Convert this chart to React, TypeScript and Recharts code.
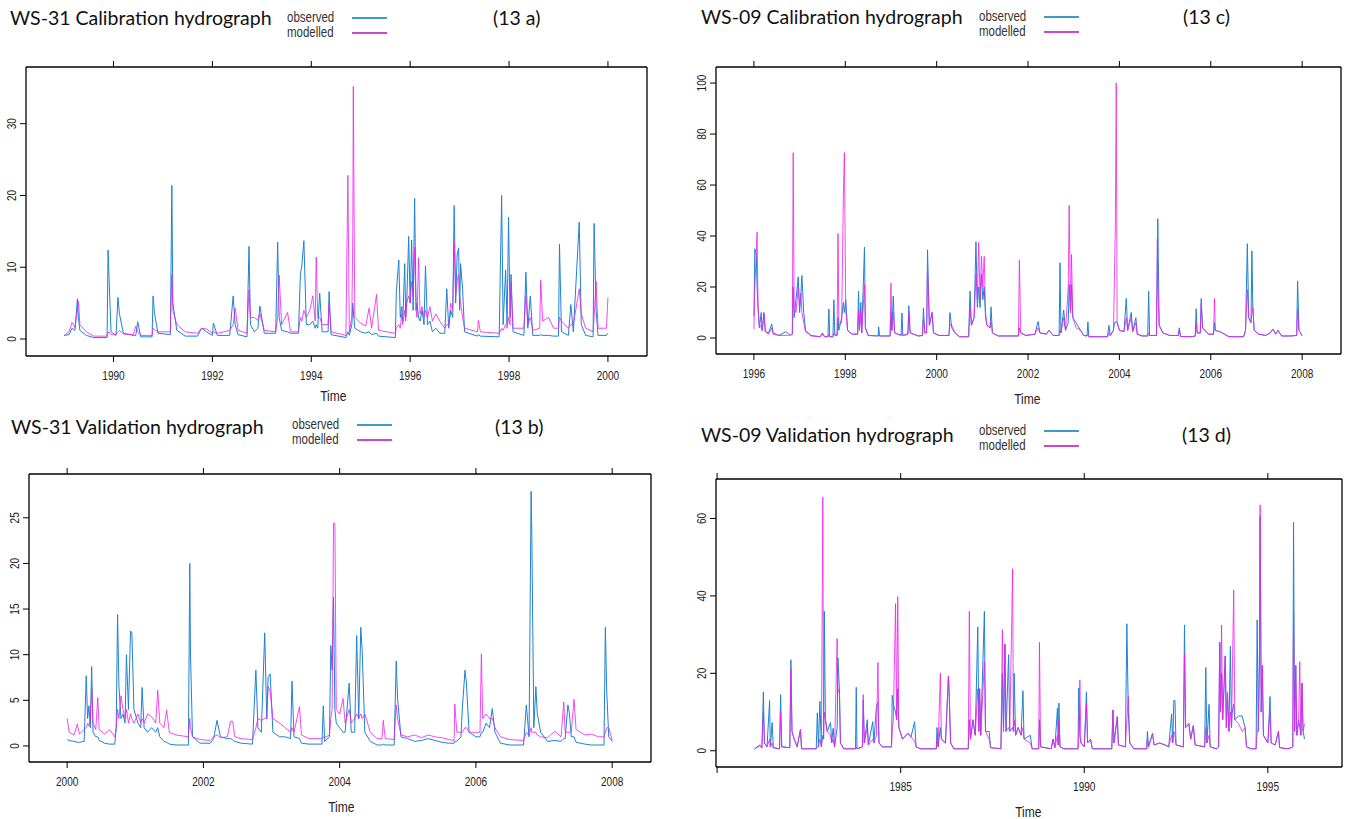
import { LineChart, Line, XAxis, YAxis } from 'recharts';

// [year, observed, modelled]
const ws31Calibration: number[][] = [
  [1989.0, 0.5, 0.5], [1989.1, 0.6, 1.0], [1989.16, 1.5, 2.3], [1989.22, 1.2, 1.6], [1989.27, 5.6, 4.0],
  [1989.29, 3.0, 5.3], [1989.32, 1.2, 2.0], [1989.45, 0.5, 1.0], [1989.6, 0.2, 0.4], [1989.87, 0.2, 0.4],
  [1989.89, 12.4, 0.8], [1989.91, 8.4, 1.0], [1989.95, 1.0, 0.6], [1990.05, 0.5, 0.6], [1990.09, 5.8, 1.0],
  [1990.12, 3.5, 1.2], [1990.2, 0.8, 0.7], [1990.4, 0.5, 0.6], [1990.45, 0.5, 1.8], [1990.49, 2.4, 1.0],
  [1990.55, 0.3, 0.5], [1990.78, 0.3, 0.5], [1990.8, 6.0, 1.5], [1990.83, 3.5, 1.3], [1990.9, 0.8, 1.0],
  [1991.15, 0.6, 1.0], [1991.18, 21.4, 9.0], [1991.2, 5.0, 4.0], [1991.28, 1.2, 2.0], [1991.45, 0.4, 1.0],
  [1991.7, 0.4, 0.8], [1991.78, 1.5, 1.5], [1991.88, 1.0, 1.4], [1992.0, 0.5, 0.8], [1992.02, 2.2, 1.0],
  [1992.1, 0.5, 0.8], [1992.35, 0.5, 1.2], [1992.42, 6.0, 2.0], [1992.46, 2.0, 4.3], [1992.52, 0.6, 1.2],
  [1992.7, 0.3, 0.8], [1992.74, 12.9, 6.8], [1992.77, 2.0, 3.0], [1992.85, 1.0, 3.0], [1992.92, 1.5, 2.6],
  [1992.96, 4.6, 3.5], [1993.05, 0.8, 1.2], [1993.28, 0.8, 1.0], [1993.32, 13.5, 3.0], [1993.35, 3.0, 8.9],
  [1993.4, 1.2, 2.0], [1993.52, 1.0, 3.7], [1993.58, 0.8, 1.0], [1993.74, 0.8, 1.0], [1993.78, 9.0, 3.0],
  [1993.81, 10.3, 2.5], [1993.85, 13.7, 4.0], [1993.9, 2.0, 3.0], [1993.97, 2.0, 4.0], [1994.03, 2.5, 6.0],
  [1994.08, 1.5, 2.5], [1994.1, 2.0, 11.4], [1994.13, 1.5, 3.0], [1994.17, 6.4, 3.0], [1994.22, 1.0, 2.0],
  [1994.34, 1.0, 2.0], [1994.36, 6.6, 5.0], [1994.4, 0.6, 1.0], [1994.7, 0.2, 0.5], [1994.74, 1.0, 22.8],
  [1994.77, 0.5, 1.0], [1994.82, 2.0, 3.0], [1994.84, 5.0, 14.7], [1994.85, 4.0, 35.2], [1994.88, 1.5, 3.0],
  [1995.0, 1.0, 2.2], [1995.1, 0.8, 1.8], [1995.17, 1.0, 4.3], [1995.22, 0.6, 1.5], [1995.32, 0.8, 6.2],
  [1995.36, 0.4, 1.2], [1995.7, 0.2, 0.8], [1995.72, 6.6, 1.5], [1995.77, 11.0, 2.0], [1995.8, 3.0, 1.5],
  [1995.83, 4.5, 3.5], [1995.85, 2.5, 2.0], [1995.89, 10.5, 4.0], [1995.91, 3.0, 2.5], [1995.93, 5.0, 5.0],
  [1995.97, 14.3, 6.0], [1996.0, 5.0, 5.0], [1996.03, 13.8, 8.0], [1996.06, 4.0, 6.0], [1996.09, 19.6, 12.8],
  [1996.12, 4.0, 4.0], [1996.14, 5.0, 3.0], [1996.17, 3.0, 11.3], [1996.2, 2.5, 3.5], [1996.24, 4.0, 4.5],
  [1996.28, 2.0, 3.0], [1996.31, 10.2, 4.0], [1996.35, 2.0, 3.0], [1996.4, 2.5, 4.5], [1996.45, 1.0, 2.5],
  [1996.52, 1.5, 3.5], [1996.6, 0.8, 2.5], [1996.7, 0.8, 1.5], [1996.74, 7.0, 2.0], [1996.78, 1.5, 2.0],
  [1996.82, 4.0, 5.0], [1996.86, 3.0, 4.0], [1996.89, 18.6, 13.5], [1996.92, 5.0, 6.0], [1996.95, 11.7, 8.0],
  [1996.98, 12.7, 9.0], [1997.0, 4.0, 6.0], [1997.02, 10.5, 5.0], [1997.06, 7.0, 3.0], [1997.1, 1.0, 1.5],
  [1997.36, 0.4, 1.0], [1997.38, 0.6, 2.6], [1997.42, 0.4, 1.0], [1997.8, 0.3, 0.8], [1997.85, 20.0, 1.5],
  [1997.88, 2.0, 1.2], [1997.93, 9.6, 2.0], [1997.96, 2.0, 1.5], [1997.99, 17.0, 3.0], [1998.02, 3.0, 2.0],
  [1998.04, 9.0, 7.8], [1998.08, 1.0, 1.5], [1998.3, 0.5, 1.5], [1998.34, 9.3, 6.0], [1998.38, 1.5, 2.0],
  [1998.43, 6.0, 3.0], [1998.48, 0.5, 1.2], [1998.62, 0.5, 1.5], [1998.64, 0.6, 8.2], [1998.68, 0.5, 2.5],
  [1998.8, 0.5, 3.0], [1998.9, 0.4, 1.5], [1999.0, 0.4, 1.5], [1999.02, 13.2, 3.0], [1999.06, 1.0, 2.5],
  [1999.2, 0.5, 1.5], [1999.25, 4.8, 2.0], [1999.3, 1.0, 2.0], [1999.42, 16.3, 7.0], [1999.46, 2.0, 3.5],
  [1999.55, 0.5, 1.5], [1999.7, 0.3, 1.0], [1999.72, 16.1, 3.0], [1999.76, 4.0, 8.0], [1999.8, 0.5, 1.5],
  [1999.97, 0.5, 1.5], [2000.0, 0.8, 5.8],
];

const ws31Validation: number[][] = [
  [2000.0, 0.7, 3.0], [2000.03, 0.6, 1.5], [2000.1, 0.5, 1.2], [2000.15, 0.4, 2.4], [2000.18, 0.4, 1.3],
  [2000.25, 0.5, 1.8], [2000.28, 7.7, 2.0], [2000.3, 3.0, 2.5], [2000.32, 4.4, 2.2], [2000.34, 2.0, 3.0],
  [2000.36, 8.7, 6.4], [2000.38, 1.5, 2.5], [2000.42, 1.0, 1.8], [2000.45, 1.0, 5.3], [2000.47, 0.6, 1.8],
  [2000.55, 0.3, 1.3], [2000.62, 0.2, 1.8], [2000.7, 0.2, 1.0], [2000.72, 2.0, 2.0], [2000.74, 14.4, 4.0],
  [2000.76, 6.5, 3.0], [2000.79, 3.0, 5.5], [2000.82, 3.5, 4.0], [2000.85, 2.5, 3.0], [2000.87, 10.0, 4.0],
  [2000.9, 4.0, 2.5], [2000.93, 12.6, 3.5], [2000.95, 12.4, 3.0], [2000.98, 4.0, 2.5], [2001.04, 2.5, 3.5],
  [2001.08, 2.0, 2.5], [2001.1, 6.4, 3.0], [2001.13, 2.0, 2.5], [2001.18, 1.5, 3.5], [2001.24, 2.0, 3.2],
  [2001.3, 1.5, 2.5], [2001.33, 2.0, 6.1], [2001.36, 1.0, 2.5], [2001.42, 0.5, 2.0], [2001.46, 0.4, 3.9],
  [2001.5, 0.2, 1.5], [2001.6, 0.1, 1.2], [2001.78, 0.1, 1.0], [2001.8, 20.0, 3.0], [2001.81, 10.3, 2.0],
  [2001.84, 1.0, 1.0], [2001.95, 0.3, 0.7], [2002.1, 0.3, 0.6], [2002.15, 0.8, 1.0], [2002.2, 2.8, 1.2],
  [2002.25, 1.0, 0.9], [2002.35, 0.8, 1.0], [2002.4, 0.8, 2.7], [2002.43, 0.7, 2.7], [2002.46, 0.5, 1.0],
  [2002.55, 0.3, 0.8], [2002.72, 0.2, 0.7], [2002.77, 8.3, 2.0], [2002.8, 2.0, 3.0], [2002.85, 1.5, 2.8],
  [2002.9, 12.4, 3.0], [2002.93, 3.0, 3.0], [2002.95, 7.5, 6.5], [2002.98, 7.9, 6.0], [2003.02, 1.5, 3.0],
  [2003.12, 1.0, 2.5], [2003.2, 1.0, 2.0], [2003.28, 0.8, 1.5], [2003.3, 7.1, 2.0], [2003.33, 1.0, 1.5],
  [2003.41, 0.8, 4.3], [2003.44, 0.3, 1.2], [2003.55, 0.2, 0.8], [2003.74, 0.2, 0.8], [2003.76, 4.4, 1.0],
  [2003.78, 0.5, 0.9], [2003.85, 1.0, 1.2], [2003.87, 11.0, 3.0], [2003.89, 8.3, 4.0], [2003.91, 16.3, 24.4],
  [2003.93, 4.0, 24.4], [2003.95, 2.5, 4.0], [2004.0, 2.0, 3.5], [2004.05, 1.5, 5.2], [2004.08, 1.5, 2.5],
  [2004.14, 6.9, 4.0], [2004.17, 1.5, 2.5], [2004.22, 1.5, 3.0], [2004.25, 12.1, 3.5], [2004.28, 3.0, 3.0],
  [2004.31, 13.0, 3.5], [2004.33, 10.5, 3.0], [2004.37, 1.5, 3.5], [2004.45, 0.5, 1.5], [2004.55, 0.1, 0.8],
  [2004.62, 0.1, 0.8], [2004.64, 0.2, 2.8], [2004.67, 0.1, 0.8], [2004.8, 0.1, 0.7], [2004.83, 9.3, 4.5],
  [2004.85, 5.2, 3.0], [2004.9, 1.0, 1.2], [2005.0, 0.8, 1.0], [2005.1, 0.5, 1.2], [2005.2, 0.6, 0.9],
  [2005.3, 0.8, 1.2], [2005.4, 0.6, 1.0], [2005.5, 0.4, 0.9], [2005.6, 0.3, 0.7], [2005.68, 0.3, 0.6],
  [2005.69, 0.5, 4.6], [2005.72, 0.5, 1.5], [2005.78, 1.0, 1.5], [2005.8, 4.0, 1.5], [2005.84, 8.3, 2.0],
  [2005.86, 6.9, 2.0], [2005.9, 1.5, 1.5], [2006.0, 1.0, 1.5], [2006.06, 1.0, 1.5], [2006.08, 1.5, 10.1],
  [2006.1, 1.5, 3.0], [2006.15, 2.5, 3.5], [2006.2, 2.0, 3.0], [2006.24, 4.1, 3.0], [2006.28, 1.5, 2.0],
  [2006.36, 0.3, 1.0], [2006.5, 0.1, 0.7], [2006.7, 0.1, 0.6], [2006.74, 4.5, 1.5], [2006.78, 1.0, 1.2],
  [2006.81, 27.9, 2.0], [2006.82, 23.7, 1.5], [2006.85, 2.0, 1.5], [2006.88, 6.5, 1.5], [2006.9, 3.6, 1.2],
  [2006.95, 1.5, 1.0], [2007.05, 0.5, 0.9], [2007.16, 0.6, 1.6], [2007.25, 0.5, 1.0], [2007.29, 0.8, 4.8],
  [2007.31, 0.8, 1.5], [2007.35, 4.5, 1.5], [2007.37, 3.7, 1.5], [2007.4, 1.0, 1.5], [2007.44, 1.0, 5.1],
  [2007.47, 0.4, 1.8], [2007.6, 0.2, 1.2], [2007.7, 0.1, 1.3], [2007.8, 0.1, 1.0], [2007.88, 0.1, 1.0],
  [2007.9, 13.0, 1.5], [2007.92, 6.0, 2.0], [2007.95, 1.0, 2.0], [2008.0, 0.5, 0.6],
];

const ws09Calibration: number[][] = [
  [1996.0, 8.5, 3.5], [1996.02, 35.0, 20.0], [1996.05, 33.0, 33.0], [1996.07, 20.0, 41.5], [1996.09, 12.0, 12.0],
  [1996.12, 4.0, 4.0], [1996.16, 10.0, 5.0], [1996.18, 3.0, 3.0], [1996.22, 10.0, 9.5], [1996.25, 2.5, 2.5],
  [1996.32, 2.0, 1.5], [1996.39, 5.5, 4.0], [1996.42, 2.0, 1.5], [1996.55, 1.0, 1.0], [1996.7, 2.5, 1.0],
  [1996.8, 1.0, 1.2], [1996.84, 1.5, 1.5], [1996.86, 20.0, 72.7], [1996.88, 8.0, 12.0], [1996.92, 15.0, 10.0],
  [1996.97, 24.0, 20.0], [1997.0, 10.0, 12.0], [1997.03, 18.0, 17.5], [1997.05, 24.5, 10.0], [1997.09, 10.0, 6.0],
  [1997.13, 3.0, 2.5], [1997.25, 1.0, 0.8], [1997.45, 0.5, 0.5], [1997.5, 2.0, 1.5], [1997.55, 0.5, 0.5],
  [1997.62, 0.5, 0.5], [1997.64, 11.4, 1.5], [1997.66, 0.5, 0.5], [1997.73, 0.5, 0.5], [1997.75, 15.0, 2.0],
  [1997.77, 1.5, 1.0], [1997.82, 1.0, 1.0], [1997.84, 8.0, 41.0], [1997.86, 3.0, 5.0], [1997.92, 8.0, 6.0],
  [1997.96, 14.0, 58.0], [1997.98, 10.0, 72.7], [1998.01, 15.0, 11.0], [1998.05, 3.0, 3.0], [1998.15, 1.5, 1.5],
  [1998.27, 1.5, 1.5], [1998.29, 18.4, 11.0], [1998.31, 3.0, 3.0], [1998.34, 14.0, 10.0], [1998.36, 2.0, 2.0],
  [1998.42, 35.6, 21.0], [1998.44, 4.0, 4.0], [1998.5, 1.0, 1.0], [1998.72, 0.8, 0.8], [1998.73, 4.4, 1.0],
  [1998.75, 0.8, 0.8], [1998.98, 0.8, 0.8], [1999.0, 10.0, 21.5], [1999.02, 3.0, 3.0], [1999.05, 16.5, 10.0],
  [1999.08, 2.0, 2.0], [1999.22, 1.0, 1.0], [1999.24, 9.8, 2.0], [1999.26, 1.0, 1.0], [1999.37, 1.5, 1.5],
  [1999.39, 12.7, 10.0], [1999.42, 2.0, 2.0], [1999.6, 0.8, 0.8], [1999.69, 1.0, 1.0], [1999.71, 11.8, 7.5],
  [1999.74, 2.0, 2.0], [1999.78, 2.0, 2.0], [1999.8, 34.6, 27.0], [1999.84, 5.0, 5.0], [1999.9, 10.0, 10.0],
  [1999.93, 2.0, 2.0], [2000.05, 1.0, 1.0], [2000.27, 1.0, 1.0], [2000.29, 10.0, 5.5], [2000.33, 4.0, 5.0],
  [2000.4, 2.0, 2.0], [2000.5, 0.5, 0.5], [2000.7, 0.5, 0.5], [2000.73, 18.4, 12.0], [2000.76, 5.0, 5.0],
  [2000.82, 8.0, 8.0], [2000.86, 37.8, 25.0], [2000.89, 12.0, 15.0], [2000.92, 20.0, 37.5], [2000.95, 12.0, 15.0],
  [2000.98, 25.0, 32.0], [2001.01, 15.0, 20.0], [2001.04, 20.0, 32.0], [2001.07, 8.0, 10.0], [2001.1, 5.0, 5.0],
  [2001.17, 4.0, 4.0], [2001.19, 12.2, 6.5], [2001.22, 2.0, 2.0], [2001.35, 0.8, 0.8], [2001.79, 0.8, 0.8],
  [2001.81, 4.0, 30.5], [2001.84, 2.0, 2.0], [2001.95, 1.0, 1.0], [2002.15, 1.5, 1.5], [2002.22, 6.5, 4.0],
  [2002.26, 2.0, 2.0], [2002.4, 1.5, 1.5], [2002.46, 3.0, 3.0], [2002.55, 1.0, 1.0], [2002.68, 1.0, 1.0],
  [2002.7, 29.5, 3.0], [2002.72, 2.0, 2.0], [2002.78, 11.0, 8.0], [2002.82, 3.0, 3.0], [2002.88, 6.0, 20.0],
  [2002.9, 21.0, 52.0], [2002.93, 10.0, 10.0], [2002.95, 21.0, 32.8], [2002.98, 8.0, 8.0], [2003.05, 6.0, 4.0],
  [2003.15, 3.0, 3.0], [2003.22, 1.0, 1.0], [2003.29, 0.8, 0.8], [2003.31, 6.3, 1.5], [2003.33, 0.5, 0.5],
  [2003.74, 0.5, 0.5], [2003.77, 5.0, 2.0], [2003.8, 1.0, 1.0], [2003.87, 3.0, 3.0], [2003.89, 6.0, 23.0],
  [2003.91, 6.0, 42.5], [2003.93, 6.5, 100.0], [2003.95, 6.0, 6.0], [2004.0, 3.0, 3.0], [2004.1, 2.5, 2.5],
  [2004.15, 15.5, 8.0], [2004.18, 3.0, 3.0], [2004.26, 10.0, 8.0], [2004.29, 2.5, 2.5], [2004.36, 8.0, 6.0],
  [2004.39, 1.5, 1.5], [2004.5, 0.8, 0.8], [2004.62, 0.8, 0.8], [2004.64, 18.3, 2.0], [2004.66, 1.0, 1.0],
  [2004.81, 1.0, 1.0], [2004.83, 30.0, 39.0], [2004.84, 46.8, 20.0], [2004.87, 5.0, 5.0], [2004.95, 2.0, 2.0],
  [2005.1, 1.0, 1.0], [2005.29, 1.0, 1.0], [2005.31, 4.0, 3.0], [2005.34, 0.6, 0.6], [2005.6, 0.5, 0.5],
  [2005.66, 0.8, 0.8], [2005.68, 11.5, 6.0], [2005.7, 2.0, 2.0], [2005.77, 2.0, 2.0], [2005.79, 15.5, 13.5],
  [2005.82, 4.0, 4.0], [2005.95, 1.5, 1.5], [2006.06, 1.5, 1.5], [2006.08, 6.0, 15.5], [2006.1, 3.0, 3.0],
  [2006.2, 2.5, 2.5], [2006.3, 1.5, 1.5], [2006.4, 0.5, 0.5], [2006.72, 0.5, 0.5], [2006.76, 3.0, 3.0],
  [2006.8, 37.0, 19.0], [2006.83, 8.0, 8.0], [2006.88, 6.0, 6.0], [2006.9, 34.2, 10.0], [2006.92, 12.0, 12.0],
  [2006.95, 3.0, 3.0], [2007.05, 1.5, 1.5], [2007.2, 1.0, 1.0], [2007.3, 2.0, 2.0], [2007.36, 3.5, 3.5],
  [2007.42, 1.5, 1.5], [2007.47, 3.0, 3.0], [2007.55, 0.8, 0.8], [2007.75, 0.8, 0.8], [2007.88, 1.0, 1.0],
  [2007.9, 22.4, 11.5], [2007.93, 3.0, 3.0], [2008.0, 1.0, 0.8],
];

const ws09Validation: number[][] = [
  [1981.02, 0.5, 0.5], [1981.16, 1.5, 1.2], [1981.22, 0.8, 0.8], [1981.26, 15.2, 10.0], [1981.29, 2.0, 2.0],
  [1981.36, 1.0, 1.0], [1981.43, 13.0, 3.0], [1981.45, 1.0, 1.0], [1981.5, 7.3, 2.0], [1981.53, 0.8, 0.8],
  [1981.7, 0.5, 0.5], [1981.73, 14.5, 10.0], [1981.76, 1.0, 1.0], [1981.98, 0.8, 0.8], [1982.01, 23.5, 21.0],
  [1982.04, 5.0, 5.0], [1982.1, 3.0, 3.0], [1982.18, 1.0, 1.0], [1982.27, 5.5, 5.5], [1982.3, 0.5, 0.5],
  [1982.7, 0.5, 0.5], [1982.73, 9.8, 1.0], [1982.76, 1.0, 1.0], [1982.8, 12.8, 3.0], [1982.84, 1.0, 1.0],
  [1982.88, 4.0, 65.5], [1982.9, 3.0, 3.0], [1982.92, 36.0, 10.0], [1982.95, 8.0, 8.0], [1983.0, 5.0, 5.0],
  [1983.09, 7.3, 4.0], [1983.12, 2.0, 2.0], [1983.16, 5.8, 3.0], [1983.2, 1.0, 1.0], [1983.27, 6.0, 29.0],
  [1983.29, 24.0, 15.0], [1983.33, 16.0, 16.0], [1983.36, 2.0, 2.0], [1983.45, 0.5, 0.5], [1983.77, 0.5, 0.5],
  [1983.79, 16.4, 1.0], [1983.81, 0.5, 0.5], [1983.96, 1.0, 1.0], [1983.98, 13.0, 14.5], [1984.01, 2.0, 2.0],
  [1984.09, 8.0, 6.0], [1984.12, 1.5, 1.5], [1984.24, 7.5, 3.0], [1984.27, 2.0, 2.0], [1984.34, 11.5, 4.0],
  [1984.38, 12.5, 22.8], [1984.41, 2.0, 2.0], [1984.5, 1.0, 1.0], [1984.75, 1.0, 1.0], [1984.77, 14.3, 5.0],
  [1984.8, 12.0, 8.0], [1984.86, 10.0, 38.0], [1984.89, 8.0, 8.0], [1984.92, 16.0, 39.8], [1984.95, 6.0, 6.0],
  [1985.05, 3.0, 3.0], [1985.2, 4.5, 4.5], [1985.28, 3.5, 3.5], [1985.38, 7.5, 2.5], [1985.42, 1.0, 1.0],
  [1985.55, 0.5, 0.5], [1985.97, 0.5, 0.5], [1985.99, 6.0, 3.0], [1986.02, 1.0, 1.0], [1986.08, 6.0, 20.0],
  [1986.11, 3.0, 3.0], [1986.22, 2.0, 2.0], [1986.3, 19.3, 19.3], [1986.32, 15.0, 15.0], [1986.36, 2.0, 2.0],
  [1986.45, 0.5, 0.5], [1986.84, 0.5, 0.5], [1986.87, 8.0, 36.0], [1986.9, 3.0, 3.0], [1986.97, 8.0, 8.0],
  [1987.03, 4.0, 4.0], [1987.1, 32.0, 16.0], [1987.13, 5.0, 5.0], [1987.15, 16.0, 16.0], [1987.18, 4.0, 4.0],
  [1987.28, 36.0, 23.0], [1987.31, 5.0, 5.0], [1987.41, 5.0, 3.0], [1987.45, 0.8, 0.8], [1987.73, 0.5, 0.5],
  [1987.77, 20.0, 31.3], [1987.8, 5.0, 5.0], [1987.84, 27.5, 27.5], [1987.87, 5.0, 5.0], [1987.94, 24.8, 6.0],
  [1987.97, 5.0, 5.0], [1988.05, 6.0, 47.0], [1988.07, 5.0, 5.0], [1988.09, 20.0, 8.0], [1988.13, 4.0, 4.0],
  [1988.2, 6.0, 6.0], [1988.28, 4.0, 4.0], [1988.33, 15.5, 6.0], [1988.36, 3.0, 3.0], [1988.53, 4.0, 2.0],
  [1988.58, 0.5, 0.5], [1988.76, 0.5, 0.5], [1988.78, 8.0, 28.0], [1988.81, 1.0, 1.0], [1989.1, 0.5, 0.5],
  [1989.15, 3.0, 3.0], [1989.2, 0.8, 0.8], [1989.27, 11.0, 4.0], [1989.29, 1.5, 1.5], [1989.31, 12.3, 8.0],
  [1989.34, 1.0, 1.0], [1989.45, 0.5, 0.5], [1989.83, 0.5, 0.5], [1989.85, 16.2, 3.0], [1989.88, 4.0, 18.3],
  [1989.91, 2.0, 2.0], [1990.0, 1.0, 1.0], [1990.06, 15.2, 12.0], [1990.09, 2.0, 2.0], [1990.17, 3.0, 3.0],
  [1990.22, 0.5, 0.5], [1990.75, 0.5, 0.5], [1990.78, 10.5, 10.5], [1990.81, 2.0, 2.0], [1990.9, 8.8, 8.8],
  [1990.93, 1.5, 1.5], [1991.12, 1.0, 1.0], [1991.16, 32.8, 8.0], [1991.2, 10.0, 14.0], [1991.24, 2.0, 2.0],
  [1991.35, 0.5, 0.5], [1991.7, 0.5, 0.5], [1991.72, 5.0, 3.0], [1991.75, 1.0, 1.0], [1991.86, 4.5, 4.5],
  [1991.9, 1.5, 1.5], [1992.05, 2.0, 2.0], [1992.2, 1.5, 1.5], [1992.3, 1.0, 1.0], [1992.38, 9.5, 4.0],
  [1992.41, 2.0, 2.0], [1992.44, 13.0, 5.0], [1992.47, 13.0, 4.0], [1992.5, 1.5, 1.5], [1992.7, 1.0, 1.0],
  [1992.73, 32.5, 25.0], [1992.76, 6.0, 6.0], [1992.85, 7.0, 7.0], [1992.9, 3.0, 3.0], [1992.97, 6.5, 6.5],
  [1993.02, 1.5, 1.5], [1993.28, 1.0, 1.0], [1993.31, 21.5, 6.0], [1993.34, 2.0, 2.0], [1993.4, 12.0, 4.0],
  [1993.43, 1.0, 1.0], [1993.6, 0.5, 0.5], [1993.66, 1.0, 1.0], [1993.69, 28.0, 28.0], [1993.71, 10.0, 10.0],
  [1993.74, 20.0, 32.5], [1993.77, 8.0, 8.0], [1993.84, 24.5, 24.5], [1993.87, 6.0, 6.0], [1993.9, 15.0, 15.0],
  [1993.94, 5.0, 5.0], [1993.98, 27.0, 10.0], [1994.01, 6.0, 6.0], [1994.03, 10.0, 18.0], [1994.07, 12.0, 41.5],
  [1994.1, 8.0, 8.0], [1994.2, 9.0, 7.0], [1994.3, 9.0, 5.0], [1994.38, 6.0, 6.0], [1994.42, 1.0, 1.0],
  [1994.55, 0.5, 0.5], [1994.68, 0.5, 0.5], [1994.71, 33.8, 5.0], [1994.74, 5.0, 5.0], [1994.77, 22.0, 22.0],
  [1994.79, 60.5, 63.5], [1994.82, 10.0, 10.0], [1994.85, 22.0, 22.0], [1994.88, 4.0, 4.0], [1995.0, 2.0, 2.0],
  [1995.06, 14.0, 10.0], [1995.09, 2.0, 2.0], [1995.2, 1.5, 1.5], [1995.29, 5.0, 5.0], [1995.32, 0.8, 0.8],
  [1995.55, 0.5, 0.5], [1995.68, 1.0, 1.0], [1995.7, 59.0, 35.5], [1995.73, 5.0, 5.0], [1995.76, 22.0, 22.0],
  [1995.79, 4.0, 4.0], [1995.84, 8.0, 8.0], [1995.87, 6.0, 23.0], [1995.9, 4.0, 4.0], [1995.93, 17.5, 17.5],
  [1995.96, 5.0, 5.0], [1996.0, 3.0, 7.0],
];

const ws31CalYears = [1990, 1992, 1994, 1996, 1998, 2000];
const ws31ValYears = [2000, 2002, 2004, 2006, 2008];
const ws09CalYears = [1996, 1998, 2000, 2002, 2004, 2006, 2008];
const ws09ValYears = [1980, 1985, 1990, 1995];
const ws31CalFlows = [0, 10, 20, 30];
const ws31ValFlows = [0, 5, 10, 15, 20, 25];
const ws09CalFlows = [0, 20, 40, 60, 80, 100];
const ws09ValFlows = [0, 20, 40, 60];

const OBS = '#1f82d2';
const MOD = '#f01ef0';
const NARROW = "'Liberation Sans Narrow', 'Liberation Sans', Arial, sans-serif";
const TITLE_FONT = "Lato, 'Open Sans', sans-serif";

type Box = { left: number; top: number; right: number; bottom: number };

type PanelProps = {
  rows: number[][];
  box: Box;
  xDomain: [number, number];
  yDomain: [number, number];
  xTicks: number[];
  yTicks: number[];
  hideLabels?: number[];
  title: string;
  tag: string;
  titleX: number;
  titleY: number;
  tagX: number;
  legendTextX: number;
  legendLineX: number;
  legendY: number;
  timeX: number;
  timeY: number;
};

function Panel(p: PanelProps) {
  const data = p.rows.map(([t, obs, mod]) => ({ t, obs, mod }));
  const padL = 30;
  const padT = 10;
  const padB = 30;
  const padR = 5;
  const w = p.box.right - p.box.left + padL + padR;
  const h = p.box.bottom - p.box.top + padT + padB;
  const axisStyle = { stroke: '#000', strokeWidth: 1.3 };

  const xTick = (props: any) => {
    const v = props.payload.value;
    if (p.hideLabels && p.hideLabels.includes(v)) return <g />;
    return (
      <text transform={`translate(${props.x} ${props.y}) scale(0.84 1)`} x={0} y={0} dy="0.71em" textAnchor="middle"
        fontSize={12} fontFamily={NARROW} fill="#222">
        {v}
      </text>
    );
  };
  const yTick = (props: any) => {
    const x = props.x - 2;
    return (
      <text transform={`translate(${x} ${props.y}) rotate(-90) scale(0.84 1)`} x={0} y={0} textAnchor="middle"
        fontSize={12} fontFamily={NARROW} fill="#222">
        {props.payload.value}
      </text>
    );
  };

  const titleStyle = { position: 'absolute' as const, top: p.titleY - 13, fontFamily: TITLE_FONT, fontSize: 19.5, lineHeight: '26px', color: '#111', whiteSpace: 'nowrap' as const };

  return (
    <>
      <div style={{ ...titleStyle, left: p.titleX }}>{p.title}</div>
      <div style={{ ...titleStyle, left: p.tagX }}>{p.tag}</div>
      <div style={{ position: 'absolute', left: p.legendTextX, top: p.legendY - 9, fontFamily: NARROW, fontSize: 14, lineHeight: '15px', color: '#333', transform: 'scaleX(0.82)', transformOrigin: 'left top' }}>
        <div>observed</div>
        <div>modelled</div>
      </div>
      <div style={{ position: 'absolute', left: p.legendLineX, top: p.legendY - 2, width: 35, height: 1.5, background: '#3e9cc8' }} />
      <div style={{ position: 'absolute', left: p.legendLineX, top: p.legendY + 13, width: 35, height: 1.5, background: '#c84ac8' }} />
      <div style={{ position: 'absolute', left: p.timeX - 30, top: p.timeY - 9, width: 60, textAlign: 'center', fontFamily: NARROW, fontSize: 14, lineHeight: '18px', color: '#222' }}>
        <span style={{ display: 'inline-block', transform: 'scaleX(0.86)' }}>Time</span>
      </div>
      <div style={{ position: 'absolute', left: p.box.left - padL, top: p.box.top - padT }}>
        <LineChart width={w} height={h} data={data} margin={{ top: 0, right: 0, bottom: 0, left: 0 }}>
          <XAxis xAxisId="b" dataKey="t" type="number" domain={p.xDomain} ticks={p.xTicks} interval={0} allowDataOverflow
            height={padB} tickSize={6} tickMargin={9} axisLine={axisStyle} tickLine={{ stroke: '#000' }} tick={xTick} />
          <XAxis xAxisId="t" orientation="top" dataKey="t" type="number" domain={p.xDomain} ticks={p.xTicks} interval={0} allowDataOverflow
            height={padT} tickSize={6} axisLine={axisStyle} tickLine={{ stroke: '#000' }} tick={() => <g />} />
          <YAxis yAxisId="l" type="number" domain={p.yDomain} ticks={p.yTicks} interval={0} allowDataOverflow
            width={padL} tickSize={6} tickMargin={2} axisLine={axisStyle} tickLine={{ stroke: '#000' }} tick={yTick} />
          <YAxis yAxisId="r" orientation="right" type="number" domain={p.yDomain} allowDataOverflow
            width={padR} axisLine={axisStyle} tickLine={false} tick={false} />
          <Line xAxisId="b" yAxisId="l" type="linear" dataKey="obs" stroke={OBS} strokeWidth={1} dot={false} isAnimationActive={false} />
          <Line xAxisId="b" yAxisId="l" type="linear" dataKey="mod" stroke={MOD} strokeOpacity={0.8} strokeWidth={1} dot={false} isAnimationActive={false} />
        </LineChart>
      </div>
    </>
  );
}

export default function App() {
  return (
    <div style={{ position: 'absolute', left: 0, top: 0, width: 1348, height: 819, background: '#fff', overflow: 'hidden' }}>
      <Panel rows={ws31Calibration} box={{ left: 26, top: 67, right: 647, bottom: 356 }}
        xDomain={[1988.23, 2000.79]} yDomain={[-2.37, 37.9]} xTicks={ws31CalYears} yTicks={ws31CalFlows}
        title="WS-31 Calibration hydrograph" tag="(13 a)" titleX={10} titleY={18} tagX={493}
        legendTextX={287} legendLineX={352} legendY={19} timeX={333} timeY={396} />
      <Panel rows={ws09Calibration} box={{ left: 716, top: 67, right: 1341, bottom: 354 }}
        xDomain={[1995.17, 2008.85]} yDomain={[-6.27, 106.3]} xTicks={ws09CalYears} yTicks={ws09CalFlows}
        title="WS-09 Calibration hydrograph" tag="(13 c)" titleX={701} titleY={17} tagX={1183}
        legendTextX={979} legendLineX={1044} legendY={18} timeX={1027} timeY={399} />
      <Panel rows={ws31Validation} box={{ left: 29, top: 474, right: 651, bottom: 762 }}
        xDomain={[1999.44, 2008.57]} yDomain={[-1.76, 29.8]} xTicks={ws31ValYears} yTicks={ws31ValFlows}
        title="WS-31 Validation hydrograph" tag="(13 b)" titleX={11} titleY={427} tagX={495}
        legendTextX={292} legendLineX={357} legendY={426} timeX={341} timeY={807} />
      <Panel rows={ws09Validation} box={{ left: 716, top: 479, right: 1342, bottom: 767 }}
        xDomain={[1979.97, 1997.02]} yDomain={[-4.2, 70.2]} xTicks={ws09ValYears} yTicks={ws09ValFlows} hideLabels={[1980]}
        title="WS-09 Validation hydrograph" tag="(13 d)" titleX={701} titleY={435} tagX={1182}
        legendTextX={979} legendLineX={1044} legendY={432} timeX={1028} timeY={812} />
    </div>
  );
}
